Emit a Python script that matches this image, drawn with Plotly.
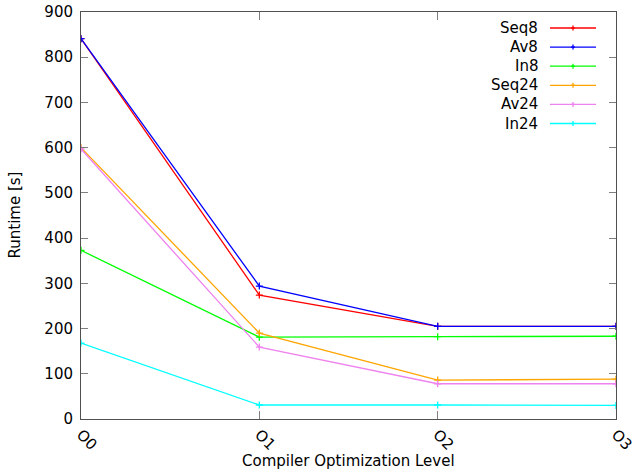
import plotly.graph_objects as go

levels = ["O0", "O1", "O2", "O3"]

series_names = ["Seq8", "Av8", "In8", "Seq24", "Av24", "In24"]
seq8 = [841, 274, 205, 205]
av8 = [841, 294, 205, 205]
in8 = [373, 181, 182, 183]
seq24 = [600, 190, 86, 88]
av24 = [597, 159, 78, 78]
in24 = [168, 31, 31, 30]
series_values = [seq8, av8, in8, seq24, av24, in24]
colors = ["#ff0000", "#0000ff", "#00ff00", "#ffa500", "#ee82ee", "#00ffff"]

y_ticks = [0, 100, 200, 300, 400, 500, 600, 700, 800, 900]

fig = go.Figure()
for name, vals, col in zip(series_names, series_values, colors):
    fig.add_trace(go.Scatter(
        x=levels, y=vals, name=name, mode="lines+markers",
        line=dict(color=col, width=1.3),
        marker=dict(symbol="cross-thin", size=5, line=dict(color=col, width=1.3), color=col),
        showlegend=False,
    ))

# gnuplot-style key: label on the left, line sample on the right
W, H = 634, 473
ml, mr, mt, mb = 81, 18, 12, 54
pw, ph = W - ml - mr, H - mt - mb
def px(x):
    return (x - ml) / pw
def py(y):
    return 1 - (y - mt) / ph

row0, step = 28, 19.1
for i, (name, col) in enumerate(zip(series_names, colors)):
    yy = row0 + i * step
    fig.add_annotation(x=px(540), y=py(yy), xref="paper", yref="paper", text=name,
                       showarrow=False, xanchor="right", yanchor="middle",
                       font=dict(size=15, color="#000"))
    fig.add_shape(type="line", xref="paper", yref="paper",
                  x0=px(550), x1=px(596), y0=py(yy), y1=py(yy),
                  line=dict(color=col, width=1.3))
    fig.add_shape(type="line", xref="paper", yref="paper",
                  x0=px(571), x1=px(575), y0=py(yy), y1=py(yy),
                  line=dict(color=col, width=1.3))
    fig.add_shape(type="line", xref="paper", yref="paper",
                  x0=px(573), x1=px(573), y0=py(yy - 2.5), y1=py(yy + 2.5),
                  line=dict(color=col, width=1.3))

# axis titles
fig.add_annotation(x=0.5, y=py(461), xref="paper", yref="paper",
                   text="Compiler Optimization Level", showarrow=False,
                   xanchor="center", yanchor="middle", font=dict(size=15))
fig.add_annotation(x=px(14), y=0.5, xref="paper", yref="paper",
                   text="Runtime [s]", showarrow=False, textangle=-90,
                   xanchor="center", yanchor="middle", font=dict(size=15))

fig.update_layout(
    width=W, height=H,
    margin=dict(l=ml, r=mr, t=mt, b=mb),
    paper_bgcolor="white", plot_bgcolor="white",
    font=dict(family="DejaVu Sans", size=15, color="#000"),
    xaxis=dict(
        type="category", range=[0, 3], tickangle=45, automargin=False,
        showline=True, linecolor="#505050", linewidth=1, mirror="ticks",
        ticks="inside", ticklen=8, tickcolor="#808080", tickwidth=1,
        showgrid=False, zeroline=False,
    ),
    yaxis=dict(
        range=[0, 900], tickvals=y_ticks, automargin=False,
        showline=True, linecolor="#505050", linewidth=1, mirror="ticks",
        ticks="inside", ticklen=7, tickcolor="#808080", tickwidth=1,
        ticklabelstandoff=4,
        showgrid=False, zeroline=False,
    ),
)

fig.write_html("out.html")
